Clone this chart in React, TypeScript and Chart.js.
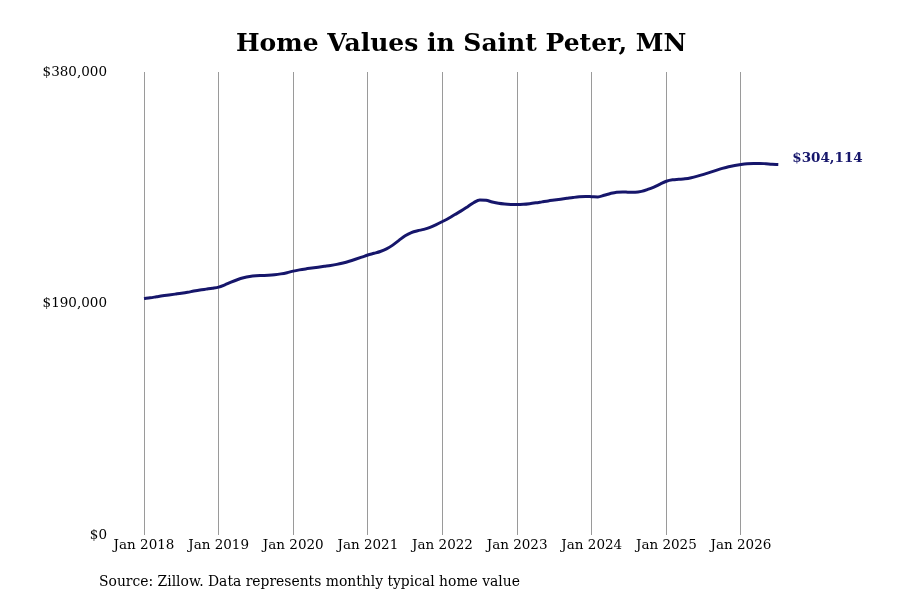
import { useEffect, useRef } from 'react'
import Chart from 'chart.js/auto'

const NAVY = '#16166b'
const FONT = "'DejaVu Serif', serif"

const years = ['2018', '2019', '2020', '2021', '2022', '2023', '2024', '2025', '2026']
const months = ['Jan', 'Feb', 'Mar', 'Apr', 'May', 'Jun', 'Jul', 'Aug', 'Sep', 'Oct', 'Nov', 'Dec']

// typical home value per month, Jan 2018 .. Jul 2026
const values2018 = [194000, 194700, 195500, 196300, 197000, 197700, 198400, 199200, 200200, 201100, 201800, 202500]
const values2019 = [203400, 205300, 207500, 209500, 211100, 212200, 212800, 213000, 213200, 213600, 214300, 215300]
const values2020 = [216600, 217600, 218400, 219100, 219800, 220500, 221200, 222100, 223300, 224700, 226300, 228000]
const values2021 = [229800, 231200, 232700, 234800, 237900, 241800, 245600, 248200, 249700, 250800, 252400, 254700]
const values2022 = [257300, 260000, 263000, 266000, 269300, 272700, 275000, 274700, 273300, 272200, 271600, 271300]
const values2023 = [271200, 271400, 271900, 272600, 273400, 274200, 274900, 275600, 276300, 277000, 277600, 277900]
const values2024 = [277700, 277500, 278800, 280300, 281400, 281600, 281300, 281300, 282000, 283600, 285600, 288000]
const values2025 = [290300, 291500, 291900, 292300, 293200, 294500, 296000, 297600, 299300, 300900, 302300, 303300]
const values2026 = [304100, 304700, 305000, 305000, 304700, 304300, 304114]

const values = [...values2018, ...values2019, ...values2020, ...values2021, ...values2022, ...values2023, ...values2024, ...values2025, ...values2026]
const labels = values.map((_, i) => months[i % 12] + ' ' + years[Math.floor(i / 12)])

const yTicks = [0, 190000, 380000]
const money = (v: number) => '$' + v.toLocaleString('en-US')

const endLabel = {
  id: 'endLabel',
  afterDatasetsDraw(chart: Chart) {
    const pts = chart.getDatasetMeta(0).data
    const last = pts[pts.length - 1]
    if (!last) return
    const ctx = chart.ctx
    ctx.save()
    ctx.font = 'bold 13.5px ' + FONT
    ctx.fillStyle = NAVY
    ctx.textAlign = 'left'
    ctx.textBaseline = 'middle'
    ctx.fillText(money(values[values.length - 1]), last.x + 14, last.y - 6)
    ctx.restore()
  },
}

export default function App() {
  const ref = useRef<HTMLCanvasElement>(null)
  useEffect(() => {
    if (!ref.current) return
    const chart = new Chart(ref.current.getContext('2d')!, {
      type: 'line',
      data: {
        labels,
        datasets: [{ data: values, borderColor: NAVY, borderWidth: 3, pointRadius: 0, tension: 0.4, cubicInterpolationMode: 'monotone', fill: false }],
      },
      options: {
        responsive: true, maintainAspectRatio: false, animation: false,
        layout: { padding: { left: 0, right: 121.7, top: 0, bottom: 20 } },
        plugins: {
          legend: { display: false },
          tooltip: { enabled: false },
          title: {
            display: true, text: 'Home Values in Saint Peter, MN', fullSize: false, color: '#000',
            font: { family: FONT, size: 25, weight: 'bold', lineHeight: 1.2 },
            padding: { top: 29, bottom: 13 },
          },
        },
        scales: {
          x: {
            afterFit: (s: any) => { s.height = 45 },
            border: { display: false },
            grid: { drawTicks: false, color: (c: any) => (c.index % 12 === 0 ? '#9a9a9a' : 'rgba(0,0,0,0)'), lineWidth: 1 },
            ticks: {
              autoSkip: false, maxRotation: 0, minRotation: 0, padding: 2, color: '#000',
              font: { family: FONT, size: 13.5 },
              callback: (_v: any, i: number) => (i % 12 === 0 ? labels[i] : ''),
            },
          },
          y: {
            min: 0, max: 380000,
            afterFit: (s: any) => { s.width = 144 },
            afterBuildTicks: (s: any) => { s.ticks = yTicks.map((v) => ({ value: v })) },
            border: { display: false },
            grid: { display: false, drawTicks: false },
            ticks: { padding: 37, color: '#000', font: { family: FONT, size: 13.5 }, callback: (v: any) => money(Number(v)) },
          },
        },
      },
      plugins: [endLabel],
    })
    return () => chart.destroy()
  }, [])
  return (
    <div style={{ position: 'fixed', left: 0, top: 0, width: 900, height: 600, background: '#fff' }}>
      <canvas ref={ref} role="img" aria-label="Home values in Saint Peter, MN, Jan 2018 to Jul 2026" />
      <div style={{ position: 'absolute', left: 99, top: 573, fontFamily: FONT, fontSize: 13.9, color: '#000', whiteSpace: 'nowrap' }}>
        Source: Zillow. Data represents monthly typical home value
      </div>
    </div>
  )
}
